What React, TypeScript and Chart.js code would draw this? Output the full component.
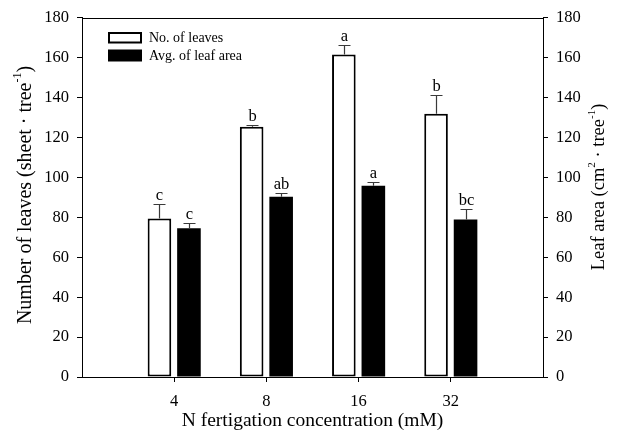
import React, { useEffect, useRef } from 'react';
import { Chart, registerables } from 'chart.js';

Chart.register(...registerables);

// ---- data ----
const categories = ['4', '8', '16', '32'];
const leafCount = [79.5, 125.5, 161.7, 131.9];
const leafCountErr = [7, 1, 4.5, 9.5];
const leafCountLetters = ['c', 'b', 'a', 'b'];
const leafArea = [74.6, 90.4, 95.9, 79.0];
const leafAreaErr = [2.5, 2, 2, 5];
const leafAreaLetters = ['c', 'ab', 'a', 'bc'];
const seriesNames = ['No. of leaves', 'Avg. of leaf area'];
const yMin = 0;
const yMax = 180;
const yStep = 20;
const xTitle = 'N fertigation concentration (mM)';
const yLeftTitle = [
  { t: 'Number of leaves (sheet \u00b7 tree' },
  { t: '-1', sup: true },
  { t: ')' },
];
const yRightTitle = [
  { t: 'Leaf area (cm' },
  { t: '2', sup: true },
  { t: ' \u00b7 tree' },
  { t: '-1', sup: true },
  { t: ')' },
];

const SERIF = '"Liberation Serif", "Times New Roman", serif';

type Part = { t: string; sup?: boolean };

function drawRich(
  ctx: CanvasRenderingContext2D,
  parts: Part[],
  cx: number,
  cy: number,
  rot: number,
  size: number
) {
  ctx.save();
  ctx.translate(cx, cy);
  ctx.rotate(rot);
  const supSize = Math.round(size * 0.6);
  let total = 0;
  const widths = parts.map((p) => {
    ctx.font = `${p.sup ? supSize : size}px ${SERIF}`;
    const w = ctx.measureText(p.t).width;
    total += w;
    return w;
  });
  let x = -total / 2;
  ctx.textBaseline = 'middle';
  ctx.textAlign = 'left';
  ctx.fillStyle = '#000';
  parts.forEach((p, i) => {
    ctx.font = `${p.sup ? supSize : size}px ${SERIF}`;
    ctx.fillText(p.t, x, p.sup ? -size * 0.42 : 0);
    x += widths[i];
  });
  ctx.restore();
}

const decorPlugin = {
  id: 'decor',
  afterDatasetsDraw(chart: any) {
    const ctx: CanvasRenderingContext2D = chart.ctx;
    const sets = [
      { vals: leafCount, err: leafCountErr, letters: leafCountLetters, axis: 'y' },
      { vals: leafArea, err: leafAreaErr, letters: leafAreaLetters, axis: 'y2' },
    ];
    sets.forEach((s, di) => {
      const meta = chart.getDatasetMeta(di);
      const scale = chart.scales[s.axis];
      s.vals.forEach((v, i) => {
        const el = meta.data[i + 1];
        if (!el) return;
        const x = Math.round(el.x) + 0.5;
        const yTop = scale.getPixelForValue(v);
        const yCap = Math.round(scale.getPixelForValue(v + s.err[i])) + 0.5;
        ctx.save();
        ctx.strokeStyle = '#3a3a3a';
        ctx.lineWidth = 1.2;
        ctx.beginPath();
        ctx.moveTo(x, yTop);
        ctx.lineTo(x, yCap);
        ctx.moveTo(x - 6, yCap);
        ctx.lineTo(x + 6, yCap);
        ctx.stroke();
        ctx.fillStyle = '#000';
        ctx.font = `16.5px ${SERIF}`;
        ctx.textAlign = 'center';
        ctx.textBaseline = 'alphabetic';
        ctx.fillText(s.letters[i], x, yCap - 5);
        ctx.restore();
      });
    });
  },
  afterDraw(chart: any) {
    const ctx: CanvasRenderingContext2D = chart.ctx;
    const a = chart.chartArea;
    ctx.save();
    // top frame line
    ctx.strokeStyle = '#000';
    ctx.lineWidth = 1;
    ctx.beginPath();
    ctx.moveTo(a.left, Math.round(a.top) + 0.5);
    ctx.lineTo(a.right, Math.round(a.top) + 0.5);
    ctx.stroke();
    // legend
    ctx.lineWidth = 2;
    ctx.fillStyle = '#fff';
    ctx.fillRect(109, 33, 32, 9.5);
    ctx.strokeRect(109, 33, 32, 9.5);
    ctx.fillStyle = '#000';
    ctx.fillRect(108, 49.5, 34, 12);
    ctx.font = `14px ${SERIF}`;
    ctx.textAlign = 'left';
    ctx.textBaseline = 'middle';
    ctx.fillText(seriesNames[0], 149, 38);
    ctx.fillText(seriesNames[1], 149, 56);
    ctx.restore();
    // axis titles
    drawRich(ctx, yLeftTitle, 26, 195, -Math.PI / 2, 20);
    drawRich(ctx, yRightTitle, 599.5, 187, -Math.PI / 2, 18.5);
    drawRich(ctx, [{ t: xTitle }], (a.left + a.right) / 2, 421, 0, 19.5);
  },
};

export default function App() {
  const ref = useRef<HTMLCanvasElement | null>(null);

  useEffect(() => {
    document.body.style.margin = '0';
    const canvas = ref.current;
    if (!canvas) return;
    const labels = ['', ...categories, ''];
    const edgeTick = (ctx: any) =>
      ctx.index === 0 || ctx.index === labels.length - 1 ? 'rgba(0,0,0,0)' : '#000';
    const yAxisCommon = {
      min: yMin,
      max: yMax,
      ticks: {
        stepSize: yStep,
        color: '#000',
        padding: 8,
        font: { family: SERIF, size: 16.5 },
      },
      grid: {
        drawOnChartArea: false,
        drawTicks: true,
        tickLength: 5,
        tickColor: '#000',
        tickWidth: 1,
      },
      border: { display: true, color: '#000', width: 1 },
    };
    const chart = new Chart(canvas, {
      type: 'bar',
      data: {
        labels,
        datasets: [
          {
            label: seriesNames[0],
            data: [null, ...leafCount, null],
            yAxisID: 'y',
            backgroundColor: '#fff',
            borderColor: '#000',
            borderWidth: 2,
            borderSkipped: false,
          },
          {
            label: seriesNames[1],
            data: [null, ...leafArea, null],
            yAxisID: 'y2',
            backgroundColor: '#000',
            borderColor: '#000',
            borderWidth: 0,
            borderSkipped: false,
          },
        ],
      },
      options: {
        responsive: false,
        animation: false,
        events: [],
        layout: { padding: { top: 15, left: 0, right: 0, bottom: 0 } },
        datasets: {
          bar: { categoryPercentage: 0.64, barPercentage: 0.8 },
        },
        plugins: {
          legend: { display: false },
          tooltip: { enabled: false },
          title: { display: false },
        },
        scales: {
          x: {
            type: 'category',
            offset: false,
            ticks: {
              color: '#000',
              padding: 10,
              autoSkip: false,
              maxRotation: 0,
              font: { family: SERIF, size: 16.5 },
            },
            grid: {
              offset: false,
              drawOnChartArea: false,
              drawTicks: true,
              tickLength: 5,
              tickColor: edgeTick,
              tickWidth: 1,
            },
            border: { display: true, color: '#000', width: 1 },
            afterFit: (s: any) => {
              s.height = 56;
            },
          },
          y: {
            ...yAxisCommon,
            position: 'left',
            afterFit: (s: any) => {
              s.width = 82;
            },
          },
          y2: {
            ...yAxisCommon,
            position: 'right',
            afterFit: (s: any) => {
              s.width = 76;
            },
          },
        },
      } as any,
      plugins: [decorPlugin],
    });
    return () => chart.destroy();
  }, []);

  return <canvas ref={ref} width={619} height={433} style={{ display: 'block' }} />;
}
